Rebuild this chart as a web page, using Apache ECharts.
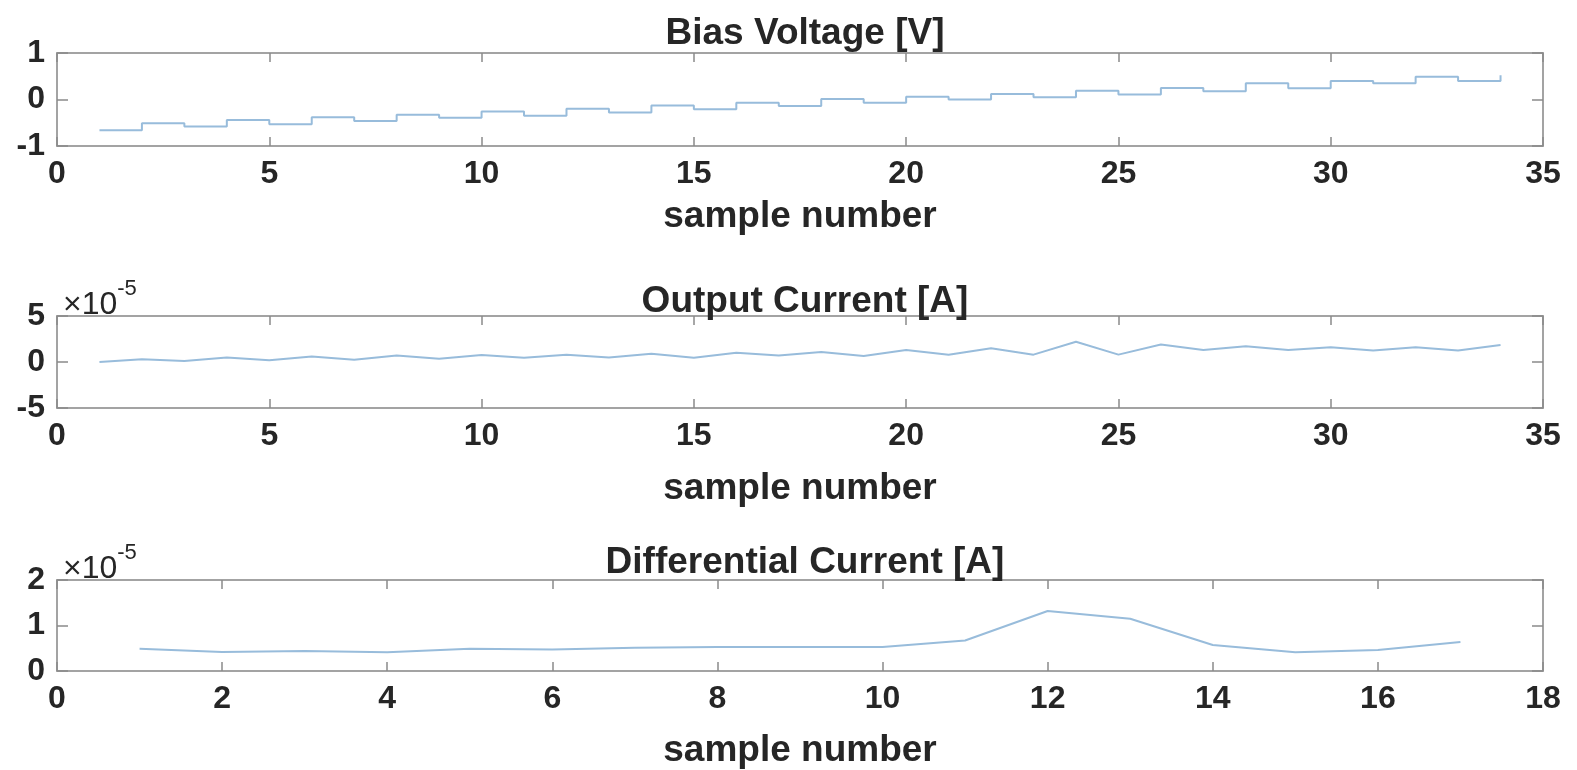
<!DOCTYPE html>
<html>
<head>
<meta charset="utf-8">
<title>Bias voltage / output current / differential current</title>
<script src="https://cdn.jsdelivr.net/npm/echarts@6/dist/echarts.min.js"></script>
<style>
html, body { margin: 0; padding: 0; background: #fff; }
#chart { width: 1577px; height: 770px; }
</style>
</head>
<body>
<div id="chart"></div>
<script>
// sample numbers
var samples34 = [1, 2, 3, 4, 5, 6, 7, 8, 9, 10, 11, 12, 13, 14, 15, 16, 17,
                 18, 19, 20, 21, 22, 23, 24, 25, 26, 27, 28, 29, 30, 31, 32, 33, 34];
var samples17 = [1, 2, 3, 4, 5, 6, 7, 8, 9, 10, 11, 12, 13, 14, 15, 16, 17];

// bias voltage [V]
var biasVoltage = [-0.66, -0.51, -0.58, -0.44, -0.53, -0.38, -0.46, -0.33, -0.39, -0.26,
                   -0.35, -0.20, -0.28, -0.13, -0.21, -0.07, -0.14, 0.01, -0.07, 0.06,
                   0.00, 0.12, 0.05, 0.19, 0.11, 0.25, 0.18, 0.35, 0.24, 0.40,
                   0.35, 0.49, 0.40, 0.52];

// output current, in units of 1e-5 A
var outputCurrent = [0.0, 0.3, 0.1, 0.5, 0.2, 0.6, 0.25, 0.7, 0.35, 0.75,
                     0.45, 0.8, 0.5, 0.9, 0.45, 1.0, 0.7, 1.1, 0.65, 1.3,
                     0.8, 1.5, 0.8, 2.2, 0.8, 1.9, 1.3, 1.7, 1.3, 1.6,
                     1.25, 1.6, 1.25, 1.85];

// differential current, in units of 1e-5 A
var diffCurrent = [0.49, 0.42, 0.44, 0.41, 0.49, 0.47, 0.51, 0.53, 0.53, 0.53,
                   0.67, 1.32, 1.15, 0.57, 0.41, 0.46, 0.64];

var titles = ['Bias Voltage [V]', 'Output Current [A]', 'Differential Current [A]'];
var xName = 'sample number';
var expLabel = '{a|\u00d710}{b|-5}';

var font = '"Liberation Sans", Arial, sans-serif';
var boxColor = '#a3a3a3';
var tickColor = '#8a8a8a';
var textColor = '#262626';
var lineColor = '#98bcdb';

function pairs(xs, ys) {
  return xs.map(function (x, i) { return [x, ys[i]]; });
}

function xAxes(gi, max, interval, nameGap) {
  var base = {
    type: 'value', gridIndex: gi, min: 0, max: max, interval: interval,
    splitLine: { show: false },
    axisLine: { show: true, onZero: false, lineStyle: { color: boxColor, width: 2 } },
    axisTick: { show: true, inside: true, length: 9, lineStyle: { color: tickColor, width: 1.5 } }
  };
  var bottom = Object.assign({}, base, {
    position: 'bottom',
    name: xName, nameLocation: 'middle', nameGap: nameGap,
    nameTextStyle: { fontFamily: font, fontSize: 37, fontWeight: 'bold', color: textColor },
    axisLabel: { margin: 12, fontFamily: font, fontSize: 32, fontWeight: 'bold', color: textColor }
  });
  var top = Object.assign({}, base, { position: 'top', axisLabel: { show: false } });
  return [bottom, top];
}

function yAxes(gi, min, max, interval, expName) {
  var base = {
    type: 'value', gridIndex: gi, min: min, max: max, interval: interval,
    splitLine: { show: false },
    axisLine: { show: true, onZero: false, lineStyle: { color: boxColor, width: 2 } },
    axisTick: { show: true, inside: true, length: 11, lineStyle: { color: tickColor, width: 1.5 } }
  };
  var left = Object.assign({}, base, {
    position: 'left',
    axisLabel: { margin: 12, fontFamily: font, fontSize: 32, fontWeight: 'bold', color: textColor }
  });
  if (expName) {
    left.name = expLabel;
    left.nameLocation = 'end';
    left.nameGap = -5;
    left.nameTextStyle = {
      align: 'left', verticalAlign: 'bottom', padding: [0, 0, 0, 6],
      rich: {
        a: { fontFamily: font, fontSize: 32, color: textColor, padding: [11, 0, 0, 0] },
        b: { fontFamily: font, fontSize: 22, color: textColor, verticalAlign: 'top' }
      }
    };
  }
  var right = Object.assign({}, base, { position: 'right', axisLabel: { show: false } });
  return [left, right];
}

var chart = echarts.init(document.getElementById('chart'));

var titleTops = [10, 278, 539];

var option = {
  animation: false,
  backgroundColor: '#ffffff',
  title: titles.map(function (t, i) {
    return {
      text: t, left: 800, top: titleTops[i], textAlign: 'center',
      textStyle: { fontFamily: font, fontSize: 37, fontWeight: 'bold', color: textColor }
    };
  }),
  grid: [
    { left: 57, right: 34, top: 53, height: 93 },
    { left: 57, right: 34, top: 316, height: 92 },
    { left: 57, right: 34, top: 580, height: 93 }
  ],
  xAxis: [].concat(
    xAxes(0, 35, 5, 52),
    xAxes(1, 35, 5, 62),
    xAxes(2, 18, 2, 61)
  ),
  yAxis: [].concat(
    yAxes(0, -1, 1, 1, false),
    yAxes(1, -5, 5, 5, true),
    yAxes(2, 0, 2, 1, true)
  ),
  series: [
    {
      type: 'line', xAxisIndex: 0, yAxisIndex: 0, step: 'end',
      data: pairs(samples34, biasVoltage),
      showSymbol: false, lineStyle: { color: lineColor, width: 2 }
    },
    {
      type: 'line', xAxisIndex: 2, yAxisIndex: 2,
      data: pairs(samples34, outputCurrent),
      showSymbol: false, lineStyle: { color: lineColor, width: 2 }
    },
    {
      type: 'line', xAxisIndex: 4, yAxisIndex: 4,
      data: pairs(samples17, diffCurrent),
      showSymbol: false, lineStyle: { color: lineColor, width: 2 }
    }
  ]
};

chart.setOption(option);
</script>
</body>
</html>
